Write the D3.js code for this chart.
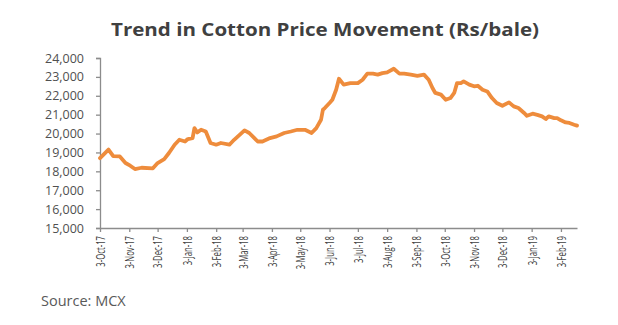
<!DOCTYPE html>
<html>
<head>
<meta charset="utf-8">
<script src="https://cdn.jsdelivr.net/npm/d3@7"></script>
<style>
  html, body { margin: 0; padding: 0; background: #fff; }
  svg { display: block; }
</style>
</head>
<body>
<svg id="chart" width="618" height="325"></svg>
<script>
// Cotton price series (Rs/bale), MCX
const dates = [
  "2017-10-03","2017-10-12","2017-10-17","2017-10-24","2017-10-30","2017-11-04","2017-11-09","2017-11-16",
  "2017-11-28","2017-12-03","2017-12-10","2017-12-15","2017-12-21","2017-12-26","2018-01-01","2018-01-04",
  "2018-01-09","2018-01-11","2018-01-14","2018-01-18","2018-01-23","2018-01-28","2018-02-03","2018-02-08",
  "2018-02-17","2018-02-22","2018-03-05","2018-03-10","2018-03-19","2018-03-24","2018-04-01","2018-04-08",
  "2018-04-16","2018-04-23","2018-04-30","2018-05-08","2018-05-15","2018-05-20","2018-05-25","2018-05-27",
  "2018-05-29","2018-06-03","2018-06-06","2018-06-10","2018-06-13","2018-06-18","2018-06-25","2018-07-03",
  "2018-07-08","2018-07-13","2018-07-19","2018-07-24","2018-07-29","2018-08-03","2018-08-10","2018-08-16",
  "2018-08-21","2018-08-28","2018-09-04","2018-09-11","2018-09-16","2018-09-20","2018-09-23","2018-09-29",
  "2018-10-04","2018-10-09","2018-10-13","2018-10-16","2018-10-20","2018-10-23","2018-10-29","2018-11-03",
  "2018-11-07","2018-11-12","2018-11-17","2018-11-22","2018-11-27","2018-12-03","2018-12-10","2018-12-15",
  "2018-12-20","2018-12-26","2018-12-29","2019-01-04","2019-01-09","2019-01-14","2019-01-18","2019-01-21",
  "2019-01-27","2019-01-30","2019-02-03","2019-02-08","2019-02-12","2019-02-17","2019-02-20"
];
const prices = [
  18700,19150,18800,18790,18440,18300,18120,18190,
  18160,18440,18650,18970,19410,19670,19580,19710,
  19760,20290,20060,20200,20110,19500,19410,19500,
  19410,19670,20170,20030,19580,19580,19760,19850,
  20030,20110,20200,20200,20030,20290,20730,21260,
  21350,21620,21790,22320,22900,22590,22670,22670,
  22850,23170,23170,23120,23200,23240,23430,23170,
  23170,23120,23060,23120,22850,22410,22150,22060,
  21790,21880,22150,22670,22670,22760,22590,22500,
  22530,22320,22230,21880,21620,21470,21650,21440,
  21350,21090,20940,21050,20990,20910,20770,20910,
  20820,20820,20700,20590,20560,20470,20420
];
const yTicks = [15000,16000,17000,18000,19000,20000,21000,22000,23000,24000];
const xTickDates = [
  "2017-10-03","2017-11-03","2017-12-03","2018-01-03","2018-02-03","2018-03-03","2018-04-03","2018-05-03",
  "2018-06-03","2018-07-03","2018-08-03","2018-09-03","2018-10-03","2018-11-03","2018-12-03","2019-01-03","2019-02-03"
];
const titleText = "Trend in Cotton Price Movement (Rs/bale)";
const sourceText = "Source: MCX";

const parse = d3.utcParse("%Y-%m-%d");
const fmtTick = d3.utcFormat("%-d-%b-%y");
const series = dates.map((d, i) => ({ date: parse(d), value: prices[i] }));

const svg = d3.select("#chart");
const plot = { left: 100, right: 577, top: 58, bottom: 228 };

const x = d3.scaleUtc()
  .domain([parse("2017-10-03"), parse("2019-02-20")])
  .range([plot.left, plot.right]);
const y = d3.scaleLinear()
  .domain([15000, 24000])
  .range([plot.bottom, plot.top]);

const axisColor = "#8c8c8c";
const labelColor = "#505050";

// Title
svg.append("text")
  .attr("x", 325).attr("y", 36)
  .attr("text-anchor", "middle")
  .attr("font-family", "'Open Sans', sans-serif")
  .attr("font-weight", "bold")
  .attr("font-size", 18.5)
  .attr("textLength", 428)
  .attr("lengthAdjust", "spacingAndGlyphs")
  .attr("fill", "#404040")
  .text(titleText);

// Y axis
const yAxis = svg.append("g")
  .attr("transform", `translate(${plot.left},0)`)
  .call(d3.axisLeft(y).tickValues(yTicks).tickSize(4).tickPadding(12)
    .tickFormat(d3.format(",")));
yAxis.select(".domain").attr("stroke", axisColor).attr("stroke-width", 1.3);
yAxis.selectAll(".tick line").attr("stroke", axisColor).attr("stroke-width", 1.3);
yAxis.selectAll(".tick text")
  .attr("fill", labelColor)
  .attr("font-family", "'Open Sans', sans-serif")
  .attr("font-size", 12.5);

// X axis with rotated, condensed date labels
const xAxis = svg.append("g")
  .attr("transform", `translate(0,${plot.bottom})`)
  .call(d3.axisBottom(x).tickValues(xTickDates.map(parse)).tickSize(4)
    .tickSizeOuter(0).tickFormat(fmtTick));
xAxis.select(".domain").attr("stroke", axisColor).attr("stroke-width", 1.3);
xAxis.selectAll(".tick line").attr("stroke", axisColor).attr("stroke-width", 1.3);
xAxis.selectAll(".tick text")
  .attr("fill", "#404040")
  .attr("font-family", "'Liberation Sans Narrow', 'Open Sans', sans-serif")
  .attr("font-size", 12.5)
  .attr("text-anchor", "end")
  .attr("dy", "0.35em")
  .attr("transform", "translate(0,8) rotate(-90) scale(0.62,1)")
  .attr("x", 0).attr("y", 0);

// Price line
const line = d3.line()
  .x(d => x(d.date))
  .y(d => y(d.value))
  .curve(d3.curveLinear);
svg.append("path")
  .datum(series)
  .attr("fill", "none")
  .attr("stroke", "#ee8c3c")
  .attr("stroke-width", 3.8)
  .attr("stroke-linejoin", "round")
  .attr("stroke-linecap", "round")
  .attr("d", line);

// Source note
svg.append("text")
  .attr("x", 41).attr("y", 306)
  .attr("font-family", "'Open Sans', sans-serif")
  .attr("font-size", 14.5)
  .attr("fill", "#595959")
  .text(sourceText);
</script>
</body>
</html>
